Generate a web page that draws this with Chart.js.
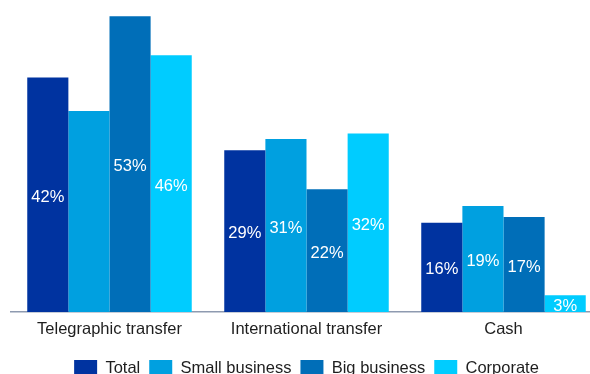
<!DOCTYPE html>
<html>
<head>
<meta charset="utf-8">
<title>Payment methods</title>
<script src="https://cdn.jsdelivr.net/npm/chart.js@4.4.1/dist/chart.umd.min.js"></script>
<style>
    html, body { margin: 0; padding: 0; background: #fff; overflow: hidden; }
    #wrap { position: relative; width: 602px; height: 387px; }
</style>
</head>
<body>
<div id="wrap"><canvas id="paymentChart"></canvas></div>
<script>
const categories = ['Telegraphic transfer', 'International transfer', 'Cash'];
const total = [42, 29, 16];
const smallBusiness = [36, 31, 19];
const bigBusiness = [53, 22, 17];
const corporate = [46, 32, 3];

// the small business bar for telegraphic transfer carries no value label
const unlabelled = { 'Small business': ['Telegraphic transfer'] };

const FONT = '"Liberation Sans", Arial, Helvetica, sans-serif';

// white percentage labels in the middle of each bar
const barLabels = {
    id: 'barLabels',
    afterDatasetsDraw(chart) {
        const ctx = chart.ctx;
        ctx.save();
        ctx.font = '16.5px ' + FONT;
        ctx.fillStyle = '#ffffff';
        ctx.textAlign = 'center';
        ctx.textBaseline = 'middle';
        chart.data.datasets.forEach((ds, i) => {
            const meta = chart.getDatasetMeta(i);
            const skip = unlabelled[ds.label] || [];
            meta.data.forEach((bar, j) => {
                if (skip.includes(chart.data.labels[j])) return;
                const y = (bar.y + bar.base) / 2 + 2.5;
                ctx.fillText(ds.data[j] + '%', bar.x, y);
            });
        });
        ctx.restore();
    }
};

const ctx = document.getElementById('paymentChart').getContext('2d');
new Chart(ctx, {
    type: 'bar',
    data: {
        labels: categories,
        datasets: [
            { label: 'Total', data: total, backgroundColor: '#0033a0' },
            { label: 'Small business', data: smallBusiness, backgroundColor: '#00a0e0' },
            { label: 'Big business', data: bigBusiness, backgroundColor: '#006eb8' },
            { label: 'Corporate', data: corporate, backgroundColor: '#00ccff' }
        ]
    },
    options: {
        responsive: true,
        maintainAspectRatio: false,
        animation: false,
        layout: { padding: { left: 11, right: 0, top: 5, bottom: 0 } },
        datasets: {
            bar: { categoryPercentage: 0.835, barPercentage: 1, borderWidth: 0 }
        },
        scales: {
            x: {
                grid: { display: false, drawTicks: false },
                border: { display: true, color: '#8e9ab0', width: 1.5 },
                ticks: { color: '#1e1e1e', font: { family: FONT, size: 16.5 }, padding: 8 },
                afterFit(scale) { scale.height = 39; }
            },
            y: {
                display: false,
                min: 0,
                max: 55
            }
        },
        plugins: {
            legend: {
                position: 'bottom',
                labels: {
                    boxWidth: 23,
                    boxHeight: 17,
                    padding: 9,
                    color: '#1e1e1e',
                    font: { family: FONT, size: 16.5 }
                }
            },
            tooltip: { enabled: false }
        }
    },
    plugins: [barLabels]
});
</script>
</body>
</html>
